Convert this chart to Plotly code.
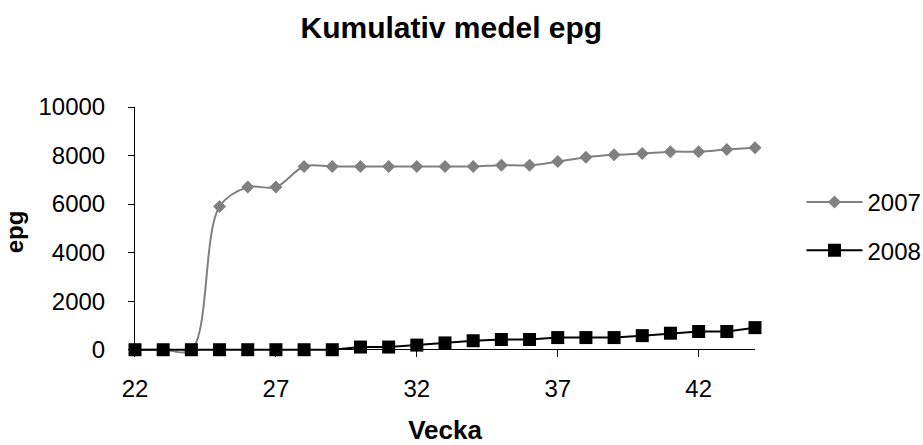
import plotly.graph_objects as go

weeks = list(range(22, 45))
epg_2007 = [0, 0, 0, 5900, 6700, 6700, 7550, 7550, 7550, 7550, 7550, 7550, 7550,
            7600, 7600, 7750, 7930, 8030, 8080, 8160, 8160, 8250, 8320]
epg_2008 = [0, 0, 0, 0, 0, 0, 0, 0, 110, 110, 190, 280, 370,
            420, 420, 500, 500, 500, 580, 680, 750, 750, 910]
x_ticks = [22, 27, 32, 37, 42]
y_ticks = [0, 2000, 4000, 6000, 8000, 10000]
y_tick_text = ["0", "2000", "4000", "6000", "8000", "10000"]

FONT = "Liberation Sans, Arial, sans-serif"

fig = go.Figure()
fig.add_trace(go.Scatter(
    x=weeks, y=epg_2007, name="2007", mode="lines+markers",
    line=dict(color="#808080", width=2, shape="spline", smoothing=1),
    marker=dict(symbol="diamond", size=10, color="#808080"),
    cliponaxis=False, legendgroup="a",
))
fig.add_trace(go.Scatter(
    x=weeks, y=epg_2008, name="2008", mode="lines+markers",
    line=dict(color="#000000", width=2),
    marker=dict(symbol="square", size=13, color="#000000"),
    cliponaxis=False, legendgroup="b",
))

fig.update_layout(
    width=923, height=445,
    margin=dict(l=135, r=168, t=107, b=88, autoexpand=False),
    paper_bgcolor="white", plot_bgcolor="white",
    font=dict(family=FONT, size=24, color="black"),
    title=dict(text="<b>Kumulativ medel epg</b>", x=0.489, xanchor="center",
               y=1 - 27 / 445, yanchor="middle", font=dict(size=30)),
    showlegend=True,
    legend=dict(x=1.075, xanchor="left", y=0.522, yanchor="middle",
                font=dict(size=24), tracegroupgap=14, itemwidth=56,
                bgcolor="rgba(0,0,0,0)"),
    xaxis=dict(range=[22, 44], tickmode="array", tickvals=x_ticks,
               showline=False, showgrid=False, zeroline=False, automargin=False,
               ticks="inside", ticklen=7, tickcolor="black", tickwidth=1,
               ticklabelstandoff=15,
               title=dict(text="<b>Vecka</b>", standoff=32, font=dict(size=26))),
    yaxis=dict(range=[-300, 10000], tickmode="array", tickvals=y_ticks,
               ticktext=y_tick_text, automargin=False,
               showline=True, linecolor="black", linewidth=1,
               showgrid=False, zeroline=True, zerolinecolor="black", zerolinewidth=1,
               ticks="outside", ticklen=6, tickcolor="black",
               ticklabelstandoff=18,
               title=dict(text="<b>epg</b>", standoff=8, font=dict(size=24))),
)

fig.write_html("out.html", config={"displayModeBar": False},
               post_script="document.body.style.margin='0';")
